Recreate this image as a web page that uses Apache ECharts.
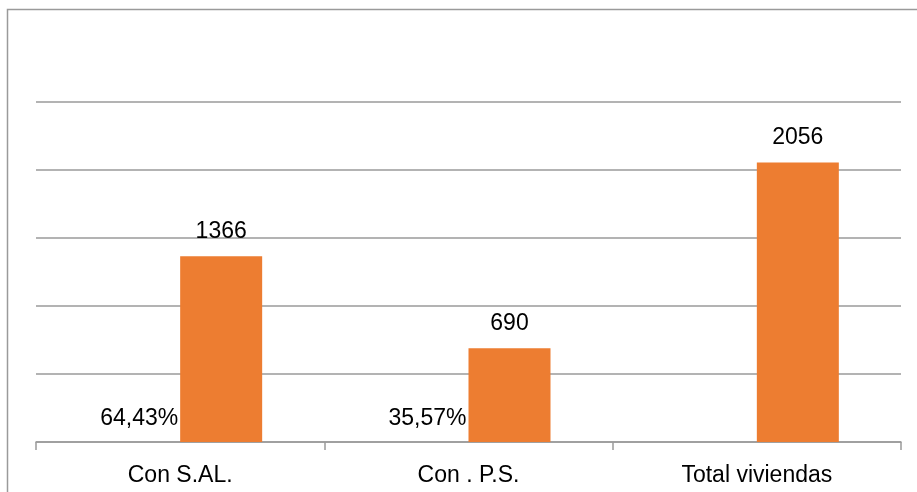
<!DOCTYPE html>
<html>
<head>
<meta charset="utf-8">
<script src="https://cdn.jsdelivr.net/npm/echarts@6/dist/echarts.min.js"></script>
<style>
  html, body { margin: 0; padding: 0; background: #fff; }
  #chart { width: 917px; height: 492px; }
</style>
</head>
<body>
<div id="chart"></div>
<script>
const categories = ['Con S.AL.', 'Con . P.S.', 'Total viviendas'];
const percentValues = [0.6443, 0.3557, null];
const percentLabels = ['64,43%', '35,57%', ''];
const countValues = [1366, 690, 2056];

const chart = echarts.init(document.getElementById('chart'));
const fontFamily = '"Liberation Sans", Arial, sans-serif';

const option = {
    animation: false,
    grid: { left: 36, right: 16, top: 102, bottom: 50 },
    graphic: [
        {
            type: 'rect',
            shape: { x: 7.5, y: 9.5, width: 1200, height: 1200 },
            style: { fill: 'none', stroke: '#9a9a9a', lineWidth: 1.5 },
            silent: true
        }
    ],
    xAxis: {
        type: 'category',
        data: categories,
        axisLine: { lineStyle: { color: '#9a9a9a', width: 1.5 } },
        axisTick: { show: true, length: 8, lineStyle: { color: '#9a9a9a', width: 1.5 } },
        axisLabel: { color: '#000', fontSize: 23, fontFamily: fontFamily, margin: 22 }
    },
    yAxis: {
        type: 'value',
        min: 0,
        max: 2500,
        interval: 500,
        axisLine: { show: false },
        axisTick: { show: false },
        axisLabel: { show: false },
        splitLine: { lineStyle: { color: '#9a9a9a', width: 1.5 } }
    },
    series: [
        {
            name: 'Porcentaje',
            type: 'bar',
            data: percentValues,
            barWidth: 82,
            barGap: '0%',
            itemStyle: { color: '#9dc3e6' },
            label: {
                show: true,
                position: 'top',
                distance: 12,
                color: '#000',
                fontSize: 23,
                fontFamily: fontFamily,
                formatter: p => percentLabels[p.dataIndex]
            }
        },
        {
            name: 'Viviendas',
            type: 'bar',
            data: countValues,
            barWidth: 82,
            itemStyle: { color: '#ed7d31' },
            label: {
                show: true,
                position: 'top',
                distance: 13,
                color: '#000',
                fontSize: 23,
                fontFamily: fontFamily
            }
        }
    ]
};

chart.setOption(option);
</script>
</body>
</html>
